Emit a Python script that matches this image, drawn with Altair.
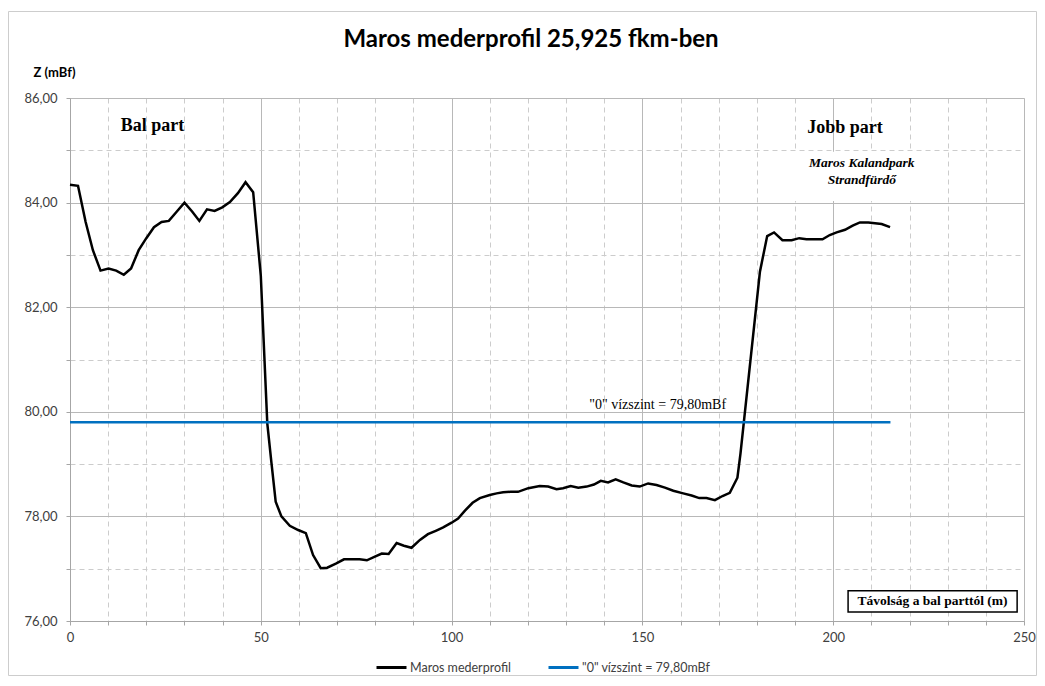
import altair as alt
import pandas as pd

# ---- data ----
dist = [0.0, 2.1, 4.1, 6.0, 8.0, 10.1, 12.1, 14.1, 16.0, 18.0, 20.0, 22.0, 24.0, 25.9,
        28.0, 30.0, 32.0, 33.9, 35.9, 37.9, 39.9, 41.9, 44.0, 46.0, 48.0, 50.0, 51.7,
        52.8, 53.9, 55.4, 57.6, 59.8, 61.8, 63.7, 65.7, 67.4, 69.8, 71.8, 73.8, 75.9,
        77.8, 79.9, 81.7, 83.5, 85.6, 87.5, 89.5, 91.7, 93.8, 96.0, 97.8, 100.0, 101.7,
        103.5, 105.5, 107.4, 110.0, 111.8, 113.5, 115.5, 117.4, 120.1, 123.1, 125.3,
        127.5, 129.2, 131.2, 133.2, 135.4, 137.3, 139.1, 141.0, 143.0, 145.0, 147.2,
        149.3, 151.5, 153.7, 155.9, 158.1, 160.7, 162.9, 164.9, 166.8, 169.0, 171.0,
        172.9, 174.9, 175.7, 176.6, 180.8, 182.7, 184.5, 186.7, 189.1, 191.1, 193.0,
        195.2, 197.2, 199.1, 200.9, 203.1, 205.1, 207.0, 209.2, 212.7, 214.9]
elev = [84.34, 84.32, 83.63, 83.09, 82.70, 82.74, 82.70, 82.62, 82.74, 83.09, 83.32, 83.53,
        83.63, 83.65, 83.83, 84.00, 83.83, 83.65, 83.87, 83.84, 83.91, 84.01, 84.18, 84.39,
        84.20, 82.60, 79.78, 79.02, 78.28, 78.00, 77.82, 77.74, 77.68, 77.26, 77.01, 77.02,
        77.10, 77.18, 77.18, 77.18, 77.16, 77.23, 77.29, 77.28, 77.49, 77.44, 77.40, 77.55,
        77.66, 77.73, 77.79, 77.88, 77.96, 78.11, 78.26, 78.35, 78.41, 78.44, 78.46, 78.47,
        78.47, 78.54, 78.58, 78.57, 78.52, 78.54, 78.58, 78.55, 78.57, 78.61, 78.68, 78.65,
        78.71, 78.65, 78.59, 78.57, 78.63, 78.60, 78.55, 78.49, 78.44, 78.40, 78.35, 78.35,
        78.31, 78.39, 78.45, 78.74, 79.20, 79.81, 82.68, 83.36, 83.43, 83.28, 83.28, 83.32,
        83.30, 83.30, 83.30, 83.38, 83.43, 83.48, 83.56, 83.62, 83.62, 83.59, 83.53]

series_names = ["Maros mederprofil", '"0" vízszint = 79,80mBf']
series_colors = ["#000000", "#0070C0"]
level_x = [0.0, 215.0]
level_y = [79.80, 79.80]

x_ticks = list(range(0, 251, 10))
y_ticks = list(range(76, 87, 1))

# annotation texts (data coordinates)
ann_text = ["Bal part", "Jobb part"]
ann_x = [21.6, 203.1]
ann_y = [85.46, 85.43]
park_text = ["Maros Kalandpark", "Strandfürdő"]
park_x = [207.5, 207.5]
park_y = [84.75, 84.43]
level_label = ['"0" vízszint = 79,80mBf']
level_label_x = [154.0]
level_label_y = [80.13]
xtitle_text = ["Távolság a bal parttól (m)"]
xtitle_box = {"x": [203.9], "x2": [248.2], "y": [76.17], "y2": [76.58]}
park_box = {"x": [183.0], "x2": [229.0], "y": [84.03], "y2": [84.97]}

# ---- tables ----
df_line = pd.concat([
    pd.DataFrame({"x": dist, "y": elev, "series": series_names[0], "order": range(len(dist))}),
    pd.DataFrame({"x": level_x, "y": level_y, "series": series_names[1], "order": range(len(level_x))}),
], ignore_index=True)

W, H = 954, 523
PAD = {"left": 62, "top": 90, "right": 13, "bottom": 55}

x_scale = alt.Scale(domain=[0, 250], nice=False, zero=False)
y_scale = alt.Scale(domain=[76, 86], nice=False, zero=False)

grid_dash = {"condition": {"test": "datum.value % 50 === 0", "value": []}, "value": [5, 4]}
grid_dash_y = {"condition": {"test": "datum.value % 2 === 0", "value": []}, "value": [5, 4]}
grid_col = {"condition": {"test": "datum.value % 50 === 0", "value": "#B8B8B8"}, "value": "#CCCCCC"}
grid_col_y = {"condition": {"test": "datum.value % 2 === 0", "value": "#B8B8B8"}, "value": "#CCCCCC"}

x_axis = alt.Axis(values=x_ticks, title=None, grid=True, gridDash=grid_dash, gridColor=grid_col,
                  labelExpr="datum.value % 50 === 0 ? datum.label : ''", labelFont="Lato",
                  labelFontSize=13, labelColor="#404040", labelPadding=6, tickSize=4,
                  tickColor="#A6A6A6", domainColor="#A6A6A6", labelFlush=False)
y_axis = alt.Axis(values=y_ticks, grid=True, gridDash=grid_dash_y, gridColor=grid_col_y,
                  labelExpr="datum.value % 2 === 0 ? replace(format(datum.value, '.2f'), '.', ',') : ''",
                  labelFont="Lato", labelFontSize=13, labelColor="#404040", labelPadding=9,
                  tickSize=4, tickColor="#A6A6A6", domainColor="#A6A6A6",
                  title="Z (mBf)", titleAngle=0, titleFont="Lato", titleFontSize=13,
                  titleFontWeight="bold", titleColor="#000000", titleAlign="center",
                  titleBaseline="middle", titleX=-16, titleY=-26)

X = alt.X("x:Q", scale=x_scale, axis=x_axis)
Y = alt.Y("y:Q", scale=y_scale, axis=y_axis)

frame_df = pd.DataFrame({"k": [0]})
frame = alt.Chart(frame_df).mark_rect(filled=False, stroke="#CDCDCD", strokeWidth=1).encode(
    x=alt.value(-PAD["left"] + 0.5), x2=alt.value(W + PAD["right"] - 0.5),
    y=alt.value(-86.5), y2=alt.value(H + PAD["bottom"] - 0.5))

park_bg = alt.Chart(pd.DataFrame(park_box)).mark_rect(fill="white").encode(
    x=X, x2="x2", y=Y, y2="y2")

lines = alt.Chart(df_line).mark_line(strokeWidth=2.5).encode(
    x=X,
    y=Y,
    color=alt.Color("series:N", scale=alt.Scale(domain=series_names, range=series_colors),
                    legend=alt.Legend(orient="none", legendX=305, legendY=553, direction="horizontal",
                                      title=None, symbolType="stroke", symbolStrokeWidth=3,
                                      symbolSize=900, labelFont="Lato", labelFontSize=12.5,
                                      labelColor="#404040", columnPadding=30, labelLimit=400,
                                      labelOffset=2)),
    detail="series:N",
    order="order:Q",
)

ann = alt.Chart(pd.DataFrame({"t": ann_text, "x": ann_x, "y": ann_y})).mark_text(
    font="Liberation Serif", fontSize=18, fontWeight="bold", color="#000000").encode(
    x=X, y=Y, text="t:N")

park = alt.Chart(pd.DataFrame({"t": park_text, "x": park_x, "y": park_y})).mark_text(
    font="Liberation Serif", fontSize=13.5, fontWeight="bold", fontStyle="italic", color="#000000").encode(
    x=X, y=Y, text="t:N")

lvl = alt.Chart(pd.DataFrame({"t": level_label, "x": level_label_x, "y": level_label_y})).mark_text(
    font="Liberation Serif", fontSize=14, color="#000000").encode(
    x=X, y=Y, text="t:N")

xbox = alt.Chart(pd.DataFrame(xtitle_box)).mark_rect(fill="white", stroke="#000000", strokeWidth=1.5).encode(
    x=X, x2="x2", y=Y, y2="y2")

xt = alt.Chart(pd.DataFrame({"t": xtitle_text, "x": [226.05], "y": [76.375]})).mark_text(
    font="Liberation Serif", fontSize=13.5, fontWeight="bold", color="#000000").encode(
    x=X, y=Y, text="t:N")

chart = alt.layer(frame, park_bg, lines, ann, park, lvl, xbox, xt).properties(
    width=W, height=H,
    padding=PAD,
    autosize=alt.AutoSizeParams(type="none"),
    title=alt.TitleParams("Maros mederprofil 25,925 fkm-ben", font="Lato", fontSize=24,
                          fontWeight="bold", color="#000000", anchor="middle", frame="group",
                          dx=-16, offset=0, dy=41),
).configure_view(stroke=None).configure(background="white")

chart.save("out.html", embed_options={"renderer": "svg", "actions": False})
